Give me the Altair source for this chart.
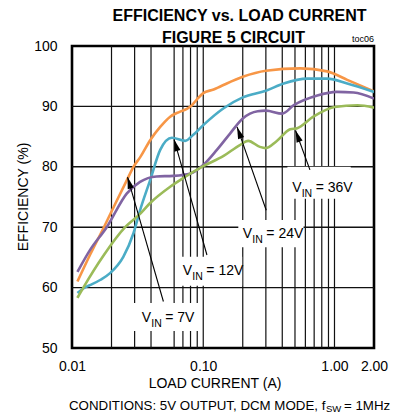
import altair as alt
import pandas as pd

# ---- measured efficiency curves: load current (A) vs efficiency (%) ----
current_7v = [0.011, 0.0137, 0.0175, 0.0215, 0.0262, 0.0294, 0.0331, 0.0394, 0.047, 0.056,
              0.066, 0.075, 0.082, 0.089, 0.1, 0.12, 0.135, 0.2, 0.3, 0.55, 0.88, 1.25, 2.0]
eff_7v = [61.0, 65.4, 70.0, 74.0, 77.8, 80.0, 81.6, 84.4, 86.6, 88.3,
          89.1, 89.6, 90.2, 91.1, 92.2, 92.8, 93.3, 94.9, 95.9, 96.3, 95.8, 94.4, 92.5]

current_12v = [0.011, 0.0125, 0.0137, 0.0165, 0.0195, 0.0246, 0.0294, 0.033, 0.0394, 0.047,
               0.0577, 0.0729, 0.084, 0.1, 0.143, 0.2, 0.3, 0.41, 0.62, 0.88, 1.25, 2.0]
eff_12v = [59.1, 60.0, 60.4, 61.3, 62.4, 65.1, 69.0, 72.8, 77.8, 82.8,
           84.8, 84.3, 85.3, 86.9, 89.7, 91.5, 92.6, 93.8, 94.6, 94.6, 93.8, 92.4]

current_24v = [0.011, 0.0137, 0.0184, 0.0262, 0.033, 0.044, 0.059, 0.08, 0.1, 0.127,
               0.16, 0.2, 0.26, 0.3, 0.4, 0.49, 0.74, 1.04, 1.4, 2.0]
eff_24v = [62.6, 66.2, 70.0, 75.6, 77.5, 78.4, 78.5, 78.9, 80.3, 82.8,
           85.5, 88.0, 89.2, 89.3, 88.8, 90.2, 91.8, 92.4, 92.3, 91.3]

current_36v = [0.011, 0.0122, 0.0175, 0.0254, 0.033, 0.0394, 0.056, 0.07, 0.1, 0.143,
               0.19, 0.22, 0.27, 0.3, 0.36, 0.46, 0.52, 0.69, 1.0, 1.5, 2.0]
eff_36v = [58.3, 60.0, 65.4, 70.0, 72.2, 74.0, 76.7, 78.1, 80.1, 81.8,
           83.6, 84.3, 83.3, 83.1, 84.2, 86.2, 86.4, 88.3, 89.9, 90.2, 89.8]

series_names = ["7V", "12V", "24V", "36V"]
series_colors = ["#F79646", "#4BACC6", "#8064A2", "#9BBB59"]

# ---- grid ----
x_grid = [0.02, 0.03, 0.04, 0.06, 0.07, 0.08, 0.09, 0.1,
          0.2, 0.3, 0.4, 0.5, 0.6, 0.7, 0.8, 0.9, 1.0]
y_grid = [60, 70, 80, 90]
x_ticks = [0.01, 0.1, 1.0, 2.0]
y_ticks = [50, 60, 70, 80, 90, 100]

# ---- callouts: label anchor, white label box, arrow tail and tip ----
label_text = ["= 7V", "= 12V", "= 24V", "= 36V"]
label_x = [0.0340, 0.0699, 0.2004, 0.476]
label_y = [54.35, 62.09, 68.16, 75.88]
box_x1 = [0.0292, 0.0644, 0.185, 0.4376]
box_x2 = [0.0948, 0.198, 0.581, 1.33]
box_y1 = [52.8, 60.3, 66.7, 74.7]
box_y2 = [57.45, 65.1, 71.2, 80.0]
tail_x = [0.0497, 0.1067, 0.302, 0.65]
tail_y = [57.7, 65.4, 72.8, 79.5]
tip_x = [0.0265, 0.0600, 0.181, 0.505]
tip_y = [78.3, 84.5, 86.6, 86.0]
head_angle = [344, 344, 340, 340]

FONT = "Liberation Sans, Arial, sans-serif"

rows = []
for name, xs, ys in zip(series_names,
                        [current_7v, current_12v, current_24v, current_36v],
                        [eff_7v, eff_12v, eff_24v, eff_36v]):
    for i, (a, e) in enumerate(zip(xs, ys)):
        rows.append({"series": name, "current": a, "eff": e, "order": i})
curves = pd.DataFrame(rows)

callouts = pd.DataFrame({
    "text": label_text, "lx": label_x, "ly": label_y,
    "bx1": box_x1, "bx2": box_x2, "by1": box_y1, "by2": box_y2,
    "tx": tail_x, "ty": tail_y, "hx": tip_x, "hy": tip_y, "angle": head_angle,
})

xscale = alt.Scale(type="log", domain=[0.01, 2], nice=False)
yscale = alt.Scale(domain=[50, 100], nice=False, zero=False)

x_axis = alt.Axis(values=x_ticks, format=".2f", title=None, grid=False, ticks=False,
                  domain=False, labelFontSize=14, labelPadding=11, labelColor="black",
                  labelFont=FONT, labelFlush=False, labelOverlap=False)
y_axis = alt.Axis(values=y_ticks, title=None, grid=False, ticks=False, domain=False,
                  labelFontSize=14, labelPadding=15, labelColor="black", labelFont=FONT,
                  labelOverlap=False)


def X(field):
    return alt.X(field, type="quantitative", scale=xscale, axis=x_axis)


def Y(field):
    return alt.Y(field, type="quantitative", scale=yscale, axis=y_axis)


vgrid = alt.Chart(pd.DataFrame({"g": x_grid})).mark_rule(
    color="#111111", strokeWidth=1.2
).encode(x=X("g"))

hgrid = alt.Chart(pd.DataFrame({"g": y_grid})).mark_rule(
    color="#111111", strokeWidth=1.4
).encode(y=Y("g"))

boxes = alt.Chart(callouts).mark_rect(color="white").encode(
    x=X("bx1"), x2="bx2:Q", y=Y("by1"), y2="by2:Q",
)

lines = alt.Chart(curves).mark_line(strokeWidth=2.6, interpolate="monotone", clip=True).encode(
    x=X("current"),
    y=Y("eff"),
    color=alt.Color("series:N", scale=alt.Scale(domain=series_names, range=series_colors),
                    legend=None),
    order="order:Q",
)

arrows = alt.Chart(callouts).mark_rule(color="black", strokeWidth=1.1).encode(
    x=X("tx"), x2="hx:Q", y=Y("ty"), y2="hy:Q",
)

heads = alt.Chart(callouts).mark_point(
    shape="M0,0L-0.27,1L0.27,1Z", filled=True, color="black", opacity=1, size=560,
    strokeWidth=0
).encode(
    x=X("hx"), y=Y("hy"),
    angle=alt.Angle("angle:Q", scale=None),
)

lab_v = alt.Chart(callouts).mark_text(
    text="V", align="left", baseline="alphabetic", fontSize=14, font=FONT, color="black"
).encode(x=X("lx"), y=Y("ly"))
lab_in = alt.Chart(callouts).mark_text(
    text="IN", align="left", baseline="alphabetic", fontSize=10.5, font=FONT, color="black",
    dx=9.5, dy=5
).encode(x=X("lx"), y=Y("ly"))
lab_val = alt.Chart(callouts).mark_text(
    align="left", baseline="alphabetic", fontSize=14, font=FONT, color="black", dx=23.5
).encode(x=X("lx"), y=Y("ly"), text="text:N")


def caption(txt, x, y, size=14, weight="normal", align="left", angle=0):
    return alt.Chart(pd.DataFrame({"t": [txt]})).mark_text(
        align=align, baseline="alphabetic", fontSize=size, font=FONT, fontWeight=weight,
        color="black", angle=angle
    ).encode(x=alt.value(x), y=alt.value(y), text="t:N")


texts = [
    caption("EFFICIENCY vs. LOAD CURRENT", 167.5, -25.3, size=16, weight="bold",
            align="center"),
    caption("FIGURE 5 CIRCUIT", 161.5, -3.3, size=16, weight="bold", align="center"),
    caption("toc06", 302, -4, size=9, align="right"),
    caption("EFFICIENCY (%)", -44, 151, size=14, align="center", angle=270),
    caption("LOAD CURRENT (A)", 143, 342, size=14, align="center"),
    caption("CONDITIONS: 5V OUTPUT, DCM MODE, f", -3, 363.5, size=13.3),
    caption("SW", 254, 366, size=9.5),
    caption("= 1MHz", 272, 363.5, size=13.3),
]

chart = alt.layer(
    vgrid, hgrid, boxes, lines, arrows, heads, lab_v, lab_in, lab_val, *texts
).properties(
    width=302, height=302,
    autosize=alt.AutoSizeParams(type="none"),
    padding={"left": 72, "top": 46, "right": 30, "bottom": 68},
    background="white",
).configure_view(
    stroke="black", strokeWidth=2.6
)

chart.save("out.html", embed_options={"renderer": "svg", "actions": False})
